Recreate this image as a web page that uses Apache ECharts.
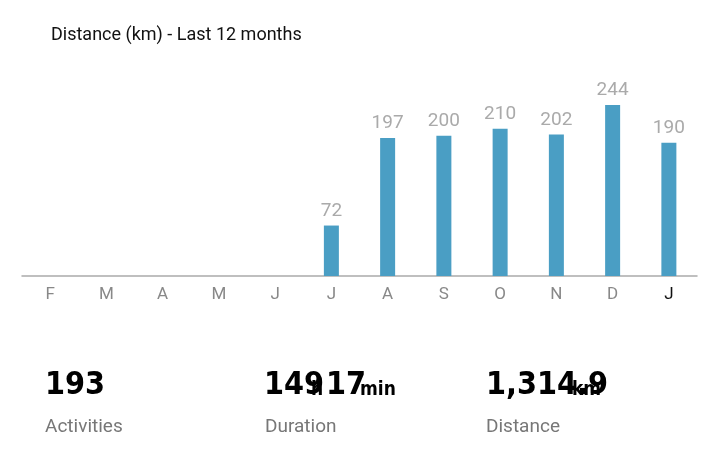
<!DOCTYPE html>
<html><head><meta charset="utf-8">
<script src="https://cdn.jsdelivr.net/npm/echarts@6/dist/echarts.min.js"></script>
<style>html,body{margin:0;padding:0;background:#fff}#c{width:719px;height:463px}</style>
</head><body><div id="c"></div>
<script>
const months = ['F','M','A','M','J','J','A','S','O','N','D','J'];
const distance = [0,0,0,0,0,72,197,200,210,202,244,190];
const statValues = ['193','149','1,314.9'];
const statLabels = ['Activities','Duration','Distance'];

const chart = echarts.init(document.getElementById('c'));
const narrow = '"Liberation Sans Narrow", "DejaVu Sans Condensed", sans-serif';
const big = {fontFamily: narrow, fontWeight: 'bold', fontSize: 32, fill: '#000'};
const small = {fontFamily: narrow, fontWeight: 'bold', fontSize: 19, fill: '#000'};
const lab = {fontFamily: 'Roboto, sans-serif', fontSize: 19, fill: '#777'};
chart.setOption({
  animation: false,
  title: {text: 'Distance (km) - Last 12 months', left: 46, top: 21,
    textStyle: {fontFamily: 'Roboto, sans-serif', fontWeight: 'normal', fontSize: 18, color: '#111'}},
  grid: {left: 22, right: 22, top: 105, height: 171},
  xAxis: {type: 'category', data: months,
    axisLine: {lineStyle: {color: '#aaa', width: 1.5}},
    axisTick: {alignWithLabel: true, length: 5, lineStyle: {color: '#bbb'}},
    axisLabel: {margin: 10, fontSize: 17, fontFamily: 'Roboto, sans-serif',
      color: (v, i) => i === 11 ? '#111' : '#888'}},
  yAxis: {type: 'value', min: 0, max: 244, show: false, splitLine: {show: false}},
  series: [{type: 'bar', data: distance, barWidth: 15, itemStyle: {color: '#4a9ec4'},
    label: {show: true, position: 'top', distance: 5, color: '#aaa', fontSize: 19,
      fontFamily: 'Roboto, sans-serif', formatter: p => p.value > 0 ? p.value : ''}}],
  graphic: [
    {type: 'text', left: 45, top: 370, style: Object.assign({text: statValues[0]}, big)},
    {type: 'text', left: 45, top: 418, style: Object.assign({text: statLabels[0]}, lab)},
    {type: 'group', left: 264, top: 370, children: [
      {type: 'text', x: 0, y: 0, style: Object.assign({text: statValues[1]}, big)},
      {type: 'text', x: 47, y: 11, style: Object.assign({text: 'h'}, small)},
      {type: 'text', x: 62, y: 0, style: Object.assign({text: '17'}, big)},
      {type: 'text', x: 96, y: 11, style: Object.assign({text: 'min'}, small)}]},
    {type: 'text', left: 265, top: 418, style: Object.assign({text: statLabels[1]}, lab)},
    {type: 'group', left: 486, top: 370, children: [
      {type: 'text', x: 0, y: 0, style: Object.assign({text: statValues[2]}, big)},
      {type: 'text', x: 86, y: 11, style: Object.assign({text: 'km'}, small)}]},
    {type: 'text', left: 486, top: 418, style: Object.assign({text: statLabels[2]}, lab)}
  ]
});
</script></body></html>
